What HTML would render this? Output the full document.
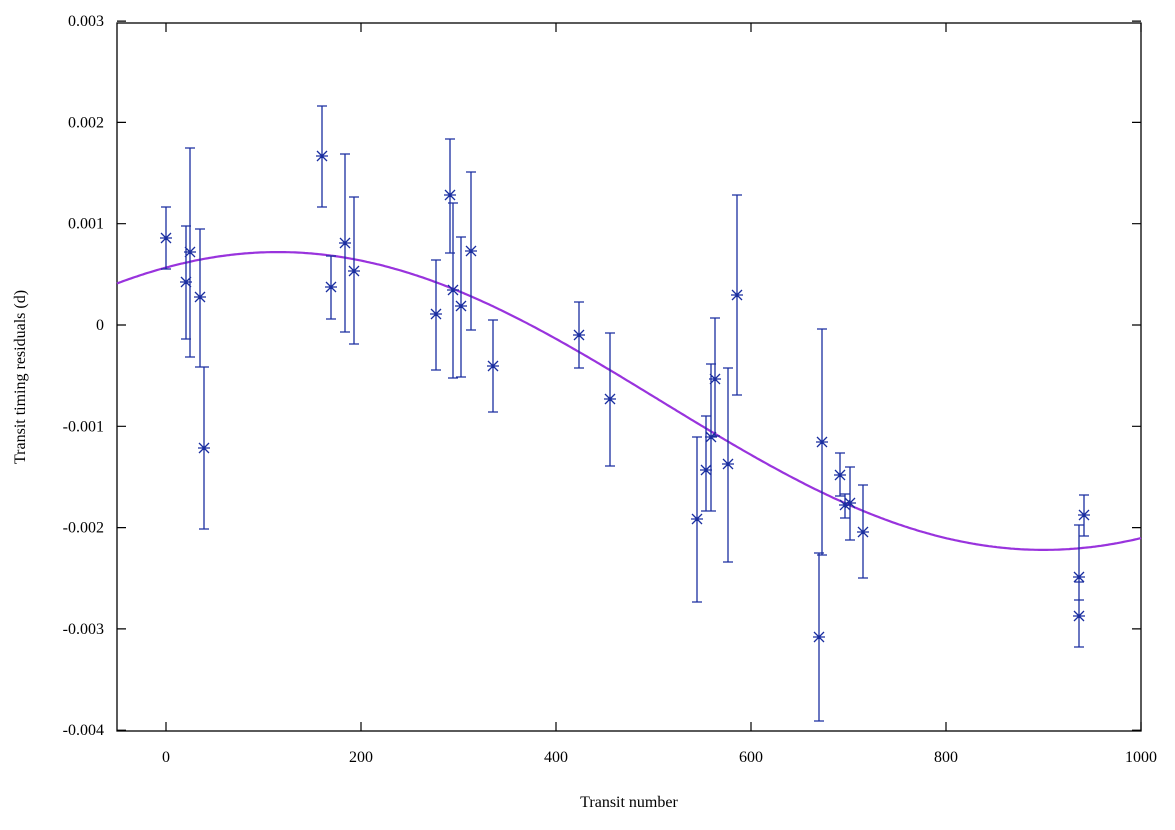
<!DOCTYPE html>
<html><head><meta charset="utf-8"><style>
html,body{margin:0;padding:0;background:#fff}
svg text{font-family:"Liberation Serif",serif;font-size:16px;fill:#000}
</style></head><body>
<svg id="s" width="1175" height="825" xmlns="http://www.w3.org/2000/svg">
<rect x="117" y="23" width="1024" height="708" fill="none" stroke="#000" stroke-width="1.3"/>
<g id="ticks" stroke="#000" stroke-width="1.2"></g>
<g id="labels"></g>
<text x="629" y="807" text-anchor="middle">Transit number</text>
<text transform="translate(25,377) rotate(-90)" text-anchor="middle">Transit timing residuals (d)</text>
<path id="curve" fill="none" stroke="#9933dd" stroke-width="2.2"/>
<g id="pts" stroke="#1a2ea0" stroke-width="1.3" fill="none"></g>
</svg>
<script>
var NS="http://www.w3.org/2000/svg";
function X(t){return 166+t*0.975;}
function Y(v){return 325-v*101300;}
function el(p,n,a,txt){var e=document.createElementNS(NS,n);for(var k in a)e.setAttribute(k,a[k]);if(txt!=null)e.textContent=txt;document.getElementById(p).appendChild(e);}
var tk="";
[0,200,400,600,800,1000].forEach(function(t){var x=X(t);tk+="M"+x+" 731v-9M"+x+" 23v9";el("labels","text",{x:x,y:762,"text-anchor":"middle"},String(t));});
[-0.004,-0.003,-0.002,-0.001,0,0.001,0.002,0.003].forEach(function(v){var y=Y(v);tk+="M117 "+y+"h9M1141 "+y+"h-9";var s=v==0?"0":v.toFixed(3);el("labels","text",{x:104,y:y+5,"text-anchor":"end"},s);});
el("ticks","path",{d:tk});
var d="";
for(var px=117;px<=1141;px+=2){var t=(px-166)/0.975;var v=-0.00075+0.00147*Math.cos(2*Math.PI*(t-115)/1570);d+=(px==117?"M":"L")+px+" "+Y(v).toFixed(1);}
document.getElementById("curve").setAttribute("d",d);
var P=[[166,238,207,269],[186,282,226,339],[190,252,148,357],[200,297,229,367],[204,448,367,529],[322,156,106,207],[331,287,256,319],[345,243,154,332],[354,271,197,344],[436,314,260,370],[450,195,139,253],[453,290,203,378],[461,306,237,377],[471,251,172,330],[493,366,320,412],[579,335,302,368],[610,399,333,466],[697,519,437,602],[706,470,416,511],[711,437,364,511],[715,379,318,436],[728,464,368,562],[737,295,195,395],[819,637,553,721],[822,442,329,555],[840,475,453,496],[845,505,494,518],[850,503,467,540],[863,532,485,578],[1079,616,582,647],[1079,577,525,600],[1084,515,495,536]];
var pd="";
P.forEach(function(p){var x=p[0],y=p[1];pd+="M"+x+" "+p[2]+"V"+p[3]+"M"+(x-5)+" "+p[2]+"h10M"+(x-5)+" "+p[3]+"h10";
pd+="M"+(x-6)+" "+y+"h12M"+x+" "+(y-6)+"v12M"+(x-5)+" "+(y-5)+"l10 10M"+(x-5)+" "+(y+5)+"l10 -10";});
el("pts","path",{d:pd});
</script>
</body></html>
